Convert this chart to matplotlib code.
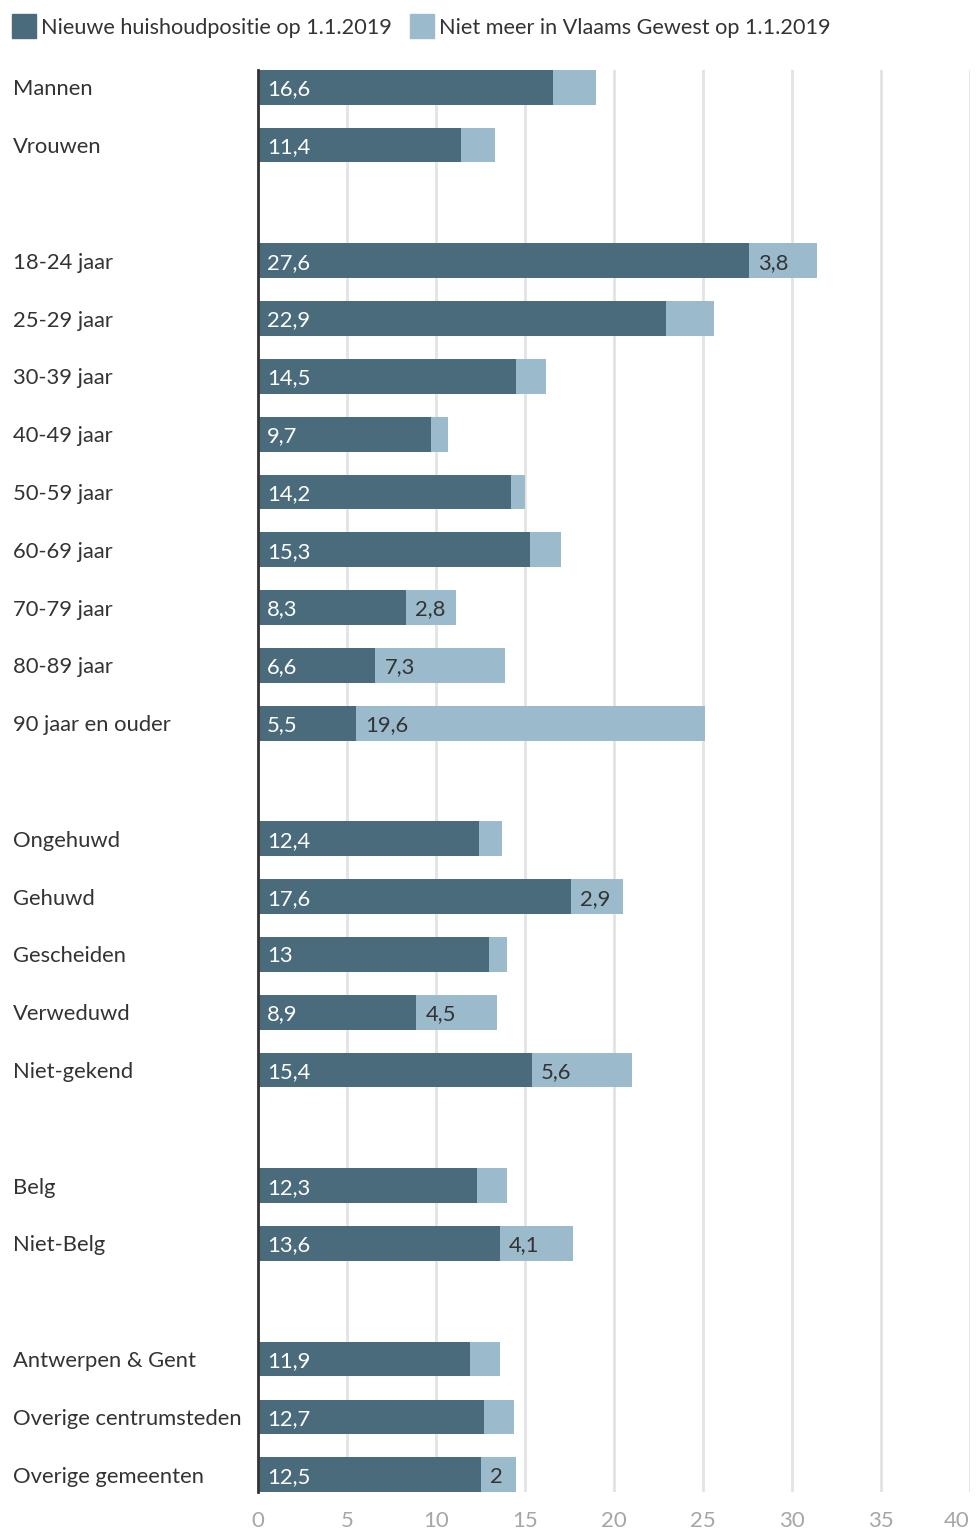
import numpy as np
import matplotlib
matplotlib.use("Agg")
import matplotlib.pyplot as plt
from matplotlib.patches import Rectangle
import matplotlib.transforms as mtransforms

plt.rcParams['font.family'] = ['Lato', 'DejaVu Sans']

# data (None = empty spacer row)
categories = ["Mannen", "Vrouwen", None,
              "18-24 jaar", "25-29 jaar", "30-39 jaar", "40-49 jaar", "50-59 jaar",
              "60-69 jaar", "70-79 jaar", "80-89 jaar", "90 jaar en ouder", None,
              "Ongehuwd", "Gehuwd", "Gescheiden", "Verweduwd", "Niet-gekend", None,
              "Belg", "Niet-Belg", None,
              "Antwerpen & Gent", "Overige centrumsteden", "Overige gemeenten"]
nieuw = [16.6, 11.4, None,
         27.6, 22.9, 14.5, 9.7, 14.2, 15.3, 8.3, 6.6, 5.5, None,
         12.4, 17.6, 13, 8.9, 15.4, None,
         12.3, 13.6, None,
         11.9, 12.7, 12.5]
weg = [2.4, 1.9, None,
       3.8, 2.7, 1.7, 1.0, 0.8, 1.7, 2.8, 7.3, 19.6, None,
       1.3, 2.9, 1.0, 4.5, 5.6, None,
       1.7, 4.1, None,
       1.7, 1.7, 2]
# which light segments carry a label (only where the text fits)
weg_label = [False, False, None,
             True, False, False, False, False, False, True, True, True, None,
             False, True, False, True, True, None,
             False, True, None,
             False, False, True]
series_names = ["Nieuwe huishoudpositie op 1.1.2019", "Niet meer in Vlaams Gewest op 1.1.2019"]
xticks = [0, 5, 10, 15, 20, 25, 30, 35, 40]

dark = "#4a6b7c"
light = "#9bbacb"
fs = 15.8

def fmt(v):
    s = ("%.1f" % v).rstrip("0").rstrip(".")
    return s.replace(".", ",")

W, H = 976, 1533
fig = plt.figure(figsize=(W / 100, H / 100), dpi=100)
ax = fig.add_axes([258 / W, 1 - 1492 / H, (970 - 258) / W, (1492 - 70) / H])

rows = np.arange(len(categories))
idx = [i for i, c in enumerate(categories) if c is not None]
v1 = np.array([nieuw[i] for i in idx])
v2 = np.array([weg[i] for i in idx])
ax.barh(rows[idx], v1, height=0.6, color=dark, zorder=3, linewidth=0)
ax.barh(rows[idx], v2, left=v1, height=0.6, color=light, zorder=3, linewidth=0)

ax.set_xlim(0, 40)
ax.set_ylim(len(categories) - 0.7, -0.3)
ax.set_xticks(xticks)
ax.set_xticklabels([str(t) for t in xticks])
ax.get_xticklabels()[-1].set_ha("right")
ax.tick_params(axis="x", length=0, pad=14, labelsize=16, labelcolor="#a6a6a6")
ax.set_yticks([])
ax.grid(axis="x", color="#e3e3e3", linewidth=2, zorder=0)
for s in ["top", "right", "bottom"]:
    ax.spines[s].set_visible(False)
ax.spines["left"].set_color("#333333")
ax.spines["left"].set_linewidth(2)
ax.spines["left"].set_zorder(5)

# category labels and value labels
trans = mtransforms.blended_transform_factory(fig.transFigure, ax.transData)
trans = mtransforms.offset_copy(trans, fig=fig, x=0, y=-2, units="dots")
off = mtransforms.offset_copy(ax.transData, fig=fig, x=9, y=-2, units="dots")
for i in idx:
    ax.text(13 / W, i, categories[i], transform=trans, ha="left", va="center",
            fontsize=fs, color="#333333")
    ax.text(0, i, fmt(nieuw[i]), transform=off, ha="left", va="center",
            fontsize=fs, color="white", zorder=6)
    if weg_label[i]:
        ax.text(nieuw[i], i, fmt(weg[i]), transform=off, ha="left", va="center",
                fontsize=fs, color="#333333", zorder=6)

# legend
for x0, col, name in [(12, dark, series_names[0]), (410, light, series_names[1])]:
    fig.patches.append(Rectangle((x0 / W, 1 - 38 / H), 24 / W, 24 / H,
                                 transform=fig.transFigure, color=col))
    fig.text((x0 + 29) / W, 1 - 28 / H, name, ha="left", va="center",
             fontsize=15.6, color="#333333")

fig.savefig("out.png", dpi=100)
